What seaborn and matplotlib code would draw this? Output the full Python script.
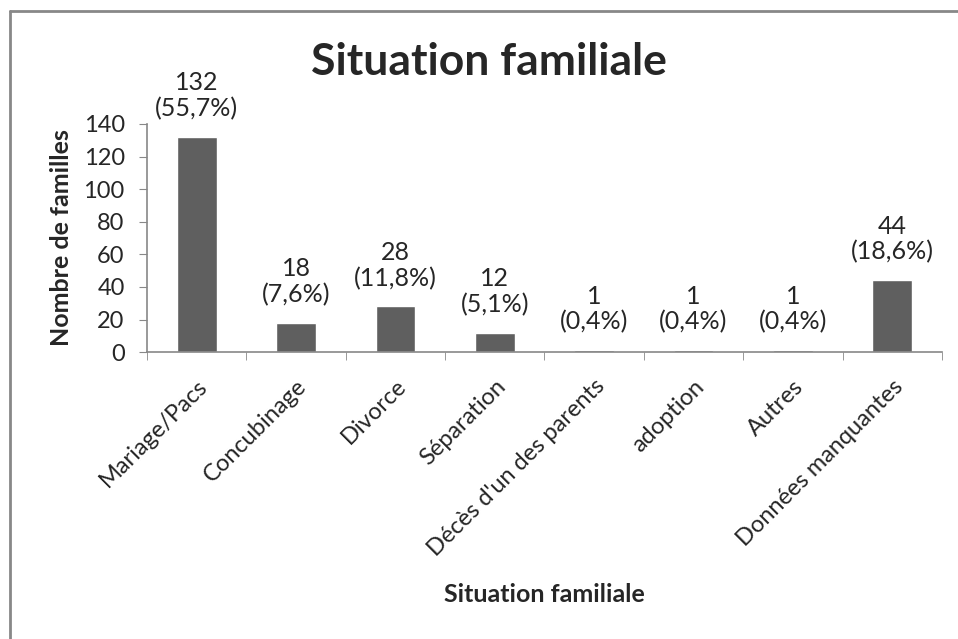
import matplotlib
matplotlib.use('Agg')
import matplotlib.pyplot as plt
from matplotlib.lines import Line2D
import seaborn as sns
import pandas as pd

categories = ['Mariage/Pacs', 'Concubinage', 'Divorce', 'Séparation',
              "Décès d'un des parents", 'adoption', 'Autres', 'Données manquantes']
counts = [132, 18, 28, 12, 1, 1, 1, 44]
percents = ['55,7%', '7,6%', '11,8%', '5,1%', '0,4%', '0,4%', '0,4%', '18,6%']
y_ticks = [0, 20, 40, 60, 80, 100, 120, 140]

df = pd.DataFrame({'situation': categories, 'n': counts})

sns.set_style('white')
plt.rcParams['font.family'] = ['Lato', 'DejaVu Sans']

fig = plt.figure(figsize=(9.58, 6.39), dpi=100)
ax = fig.add_axes([0.1534, 0.449, 0.8299, 0.357])

sns.barplot(data=df, x='situation', y='n', color='#5f5f5f', width=0.4,
            saturation=1, ax=ax)

ax.set_ylim(0, 140)
ax.set_xlim(-0.5, len(categories) - 0.5)
ax.set_yticks(y_ticks)
ax.tick_params(axis='y', labelsize=17, length=6, color='#888888', direction='out', left=True, pad=10)
ax.set_xticks(range(len(categories)))
ax.set_xticklabels(categories, rotation=45, ha='right', rotation_mode='anchor', fontsize=17)
ax.tick_params(axis='x', length=0, pad=17)
# tick marks between categories
ax.set_xticks([i - 0.5 for i in range(len(categories) + 1)], minor=True)
ax.tick_params(axis='x', which='minor', length=6, color='#888888', bottom=True)

for s in ['top', 'right']:
    ax.spines[s].set_visible(False)
for s in ['left', 'bottom']:
    ax.spines[s].set_color('#888888')
    ax.spines[s].set_linewidth(1.2)

for i, (c, p) in enumerate(zip(counts, percents)):
    ax.annotate(f'{c}\n({p})', (i, c), xytext=(0, 12), textcoords='offset points',
                ha='center', va='bottom', fontsize=18, linespacing=1.15)

ax.set_xlabel('Situation familiale', fontsize=18, fontweight='bold')
ax.set_ylabel('Nombre de familles', fontsize=18, fontweight='bold')
ax.xaxis.set_label_coords(0.5, (639 - 595) / 639 / 0.357 - 0.449 / 0.357)
ax.yaxis.set_label_coords((62 - 147) / 958 / 0.8299, 0.5)
ax.xaxis.label.set_va('center')
ax.yaxis.label.set_va('center')

fig.text(0.51, 1 - 62 / 639, 'Situation familiale', fontsize=32, fontweight='bold',
         ha='center', va='center')

# outer frame (top and left visible)
fig.add_artist(Line2D([9.5 / 958, 1], [1 - 11 / 639, 1 - 11 / 639], color='#888888', lw=2))
fig.add_artist(Line2D([9.5 / 958, 9.5 / 958], [0, 1 - 11 / 639], color='#888888', lw=2))

fig.savefig('out.png', dpi=100)
